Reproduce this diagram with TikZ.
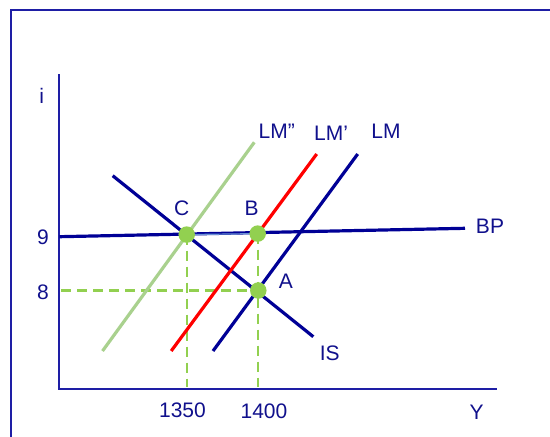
\documentclass[tikz,border=0pt]{standalone}
\usepackage{fontspec}
\setmainfont{Liberation Sans}
\definecolor{framebl}{HTML}{1E1EA5}
\definecolor{curvebl}{HTML}{000096}
\definecolor{textbl}{HTML}{10108C}
\definecolor{lmred}{HTML}{FF0000}
\definecolor{lmgreen}{HTML}{A9D18E}
\definecolor{eqgreen}{HTML}{92D050}
\definecolor{bplight}{HTML}{6A92D4}
\tikzset{
  curve/.style={line width=3.2pt, curvebl},
  axisline/.style={line width=2pt, framebl},
  guide/.style={eqgreen, line width=2.2pt, dash pattern=on 10pt off 6pt},
  eqdot/.style={circle, fill=eqgreen, minimum size=16.5pt, inner sep=0pt},
  lbl/.style={text=textbl, font=\fontsize{21}{24}\selectfont, inner sep=0pt},
}

\begin{document}
\begin{tikzpicture}[x=1pt, y=-1pt]
    \useasboundingbox (0,0) rectangle (550,437);
    \draw[line width=1.7pt, framebl] (11,437) -- (11,9.7) -- (550,9.7);

    \coordinate (orig) at (59.3,388.7);
    \coordinate (ytop) at (59.3,74.3);
    \coordinate (xend) at (496.7,388.7);
    \draw[axisline] (ytop) -- (orig) -- (xend);

    \coordinate (C) at (186.7,234.6);
    \coordinate (B) at (257.7,233.6);
    \coordinate (A) at (258.3,290.5);
    \coordinate (cfoot) at (186.7,387);
    \coordinate (bfoot) at (257.7,387);
    \coordinate (aside) at (61,290.5);
    \draw[guide] (aside) -- (A);
    \draw[guide] (C) -- (cfoot);
    \draw[guide] (B) -- (bfoot);

    \coordinate (lmpp-lo) at (102.5,351);
    \coordinate (lmpp-hi) at (254.3,142.3);
    \coordinate (lmp-lo) at (171.2,351);
    \coordinate (lmp-hi) at (316.7,154);
    \coordinate (lm-lo) at (213,351);
    \coordinate (lm-hi) at (357.7,154);
    \coordinate (bp-lo) at (59.3,236.7);
    \coordinate (bp-hi) at (465,228.3);
    \coordinate (is-hi) at (112.7,175.7);
    \coordinate (is-lo) at (313.3,336.7);

    \draw[curve, lmgreen] (lmpp-lo) -- (lmpp-hi);
    \draw[curve] (bp-lo) -- (bp-hi);
    \draw[line width=1.2pt, bplight] (C) -- (B);
    \draw[curve] (is-hi) -- (is-lo);
    \draw[curve, lmred] (lmp-lo) -- (lmp-hi);
    \draw[curve] (lm-lo) -- (lm-hi);

    \node[eqdot] (dotC) at (C) {};
    \node[eqdot] (dotB) at (B) {};
    \node[eqdot] (dotA) at (A) {};

    \node[lbl] (lblC) at (181.7,208) {C};
    \node[lbl] (lblB) at (251.7,208) {B};
    \node[lbl] (lblA) at (286,281) {A};
    \node[lbl] (lblLMpp) at (276.7,131.7) {LM”};
    \node[lbl] (lblLMp) at (331,133) {LM’};
    \node[lbl] (lblLM) at (386,131.5) {LM};
    \node[lbl] (lblBP) at (490,226) {BP};
    \node[lbl] (lblIS) at (329.8,353.3) {IS};
    \node[lbl] (lbli) at (41.7,96) {i};
    \node[lbl] (lbl9) at (43,236.8) {9};
    \node[lbl] (lbl8) at (43,292.5) {8};
    \node[lbl] (lbl1350) at (182.5,410) {1350};
    \node[lbl] (lbl1400) at (264,411.7) {1400};
    \node[lbl] (lblY) at (476.7,412) {Y};
\end{tikzpicture}
\end{document}
